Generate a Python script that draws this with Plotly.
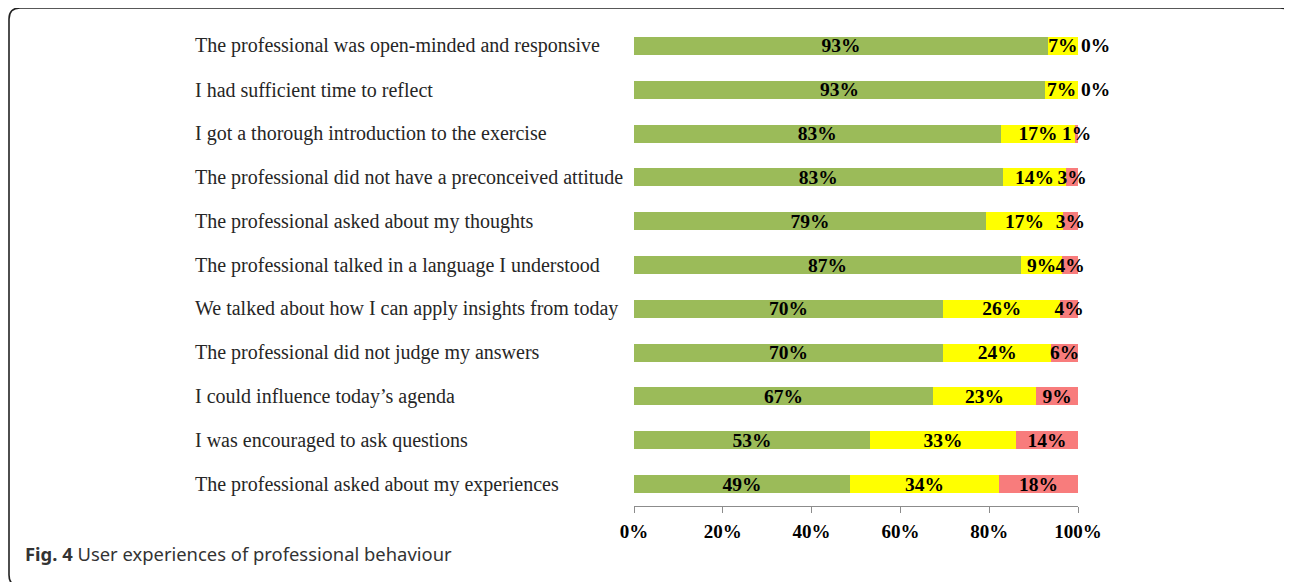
import plotly.graph_objects as go

# ---- data (top to bottom) ----
categories = [
    "The professional was open-minded and responsive",
    "I had sufficient time to reflect",
    "I got a thorough introduction to the exercise",
    "The professional did not have a preconceived attitude",
    "The professional asked about my thoughts",
    "The professional talked in a language I understood",
    "We talked about how I can apply insights from today",
    "The professional did not judge my answers",
    "I could influence today\u2019s agenda",
    "I was encouraged to ask questions",
    "The professional asked about my experiences",
]
agree = [93.2, 92.6, 82.6, 83.0, 79.3, 87.2, 69.6, 69.6, 67.3, 53.2, 48.6]
neutral = [6.8, 7.4, 16.8, 14.4, 17.3, 9.2, 26.4, 24.4, 23.3, 32.8, 33.6]
disagree = [0.0, 0.0, 0.6, 2.6, 3.4, 3.6, 4.0, 6.0, 9.4, 14.0, 17.8]
tick_values = [0, 20, 40, 60, 80, 100]
tick_labels = ["0%", "20%", "40%", "60%", "80%", "100%"]
caption_bold = "Fig. 4"
caption_text = "User experiences of professional behaviour"

# ---- layout geometry (screen pixels; page has an 8px body margin) ----
OFF = 8
W, H = 1292 - OFF, 582 - OFF
L, R = 634 - OFF, 1078 - OFF       # plot area x extent (figure px)
T, B = 24 - OFF, 506 - OFF         # plot area y extent (figure px)


def px_x(px):
    return (px - OFF - L) / (R - L)


def px_y(py):
    return (B - (py - OFF)) / (B - T)


SERIF = "Liberation Serif, Times New Roman, serif"
val_font = dict(family=SERIF, size=19.5, color="black", weight="bold")

fig = go.Figure()
series = [
    (agree, "#9BBB59"),
    (neutral, "#FFFF00"),
    (disagree, "#F87C7C"),
]
for i, (vals, col) in enumerate(series):
    last = i == len(series) - 1
    positions = ["outside" if (last and v == 0) else "inside" for v in vals]
    fig.add_trace(go.Bar(
        y=categories, x=vals, orientation="h",
        marker=dict(color=col, line=dict(width=0)),
        texttemplate="%{x:.0f}%",
        textposition=positions,
        textangle=0,
        insidetextanchor="middle",
        constraintext="none",
        textfont=val_font,
        insidetextfont=val_font,
        outsidetextfont=val_font,
        cliponaxis=False,
        hoverinfo="skip",
        showlegend=False,
    ))

annotations = []
for c in categories:
    annotations.append(dict(
        x=px_x(193), xref="paper", y=c, yref="y",
        text=c, showarrow=False, xanchor="left", yanchor="middle",
        font=dict(family=SERIF, size=20, color="#262626"),
    ))
annotations.append(dict(
    x=px_x(23), xref="paper", y=px_y(553), yref="paper",
    text="<b>" + caption_bold + "</b> " + caption_text,
    showarrow=False, xanchor="left", yanchor="middle",
    font=dict(family="Noto Sans, sans-serif", size=18.4, color="#333333"),
))

# rounded frame (screen px)
fx0, fy0, fx1, fy1, rr = 9, 8, 1291, 586, 11
pts = (
    f"M {px_x(fx0 + rr)},{px_y(fy0)} L {px_x(fx1 - rr)},{px_y(fy0)} "
    f"Q {px_x(fx1)},{px_y(fy0)} {px_x(fx1)},{px_y(fy0 + rr)} "
    f"L {px_x(fx1)},{px_y(fy1 - rr)} Q {px_x(fx1)},{px_y(fy1)} {px_x(fx1 - rr)},{px_y(fy1)} "
    f"L {px_x(fx0 + rr)},{px_y(fy1)} Q {px_x(fx0)},{px_y(fy1)} {px_x(fx0)},{px_y(fy1 - rr)} "
    f"L {px_x(fx0)},{px_y(fy0 + rr)} Q {px_x(fx0)},{px_y(fy0)} {px_x(fx0 + rr)},{px_y(fy0)} Z"
)
shapes = [dict(type="path", xref="paper", yref="paper", path=pts,
               line=dict(color="#222222", width=1.6), layer="below")]

fig.update_layout(
    width=W, height=H,
    margin=dict(l=L, r=W - R, t=T, b=H - B, pad=0),
    barmode="stack", bargap=0.59,
    paper_bgcolor="white", plot_bgcolor="white",
    annotations=annotations, shapes=shapes,
    xaxis=dict(
        range=[0, 100], tickvals=tick_values, ticktext=tick_labels,
        showgrid=False, zeroline=False,
        showline=True, linecolor="#8c8c8c", linewidth=1.3,
        ticks="outside", ticklen=6, tickcolor="#8c8c8c", tickwidth=1.3,
        tickfont=dict(family=SERIF, size=19, color="black", weight="bold"),
        ticklabelstandoff=2,
        fixedrange=True,
    ),
    yaxis=dict(
        autorange="reversed", showticklabels=False, showgrid=False,
        zeroline=False, showline=False, ticks="", fixedrange=True,
    ),
    uniformtext=dict(mode=False),
)

fig.write_html("out.html")
